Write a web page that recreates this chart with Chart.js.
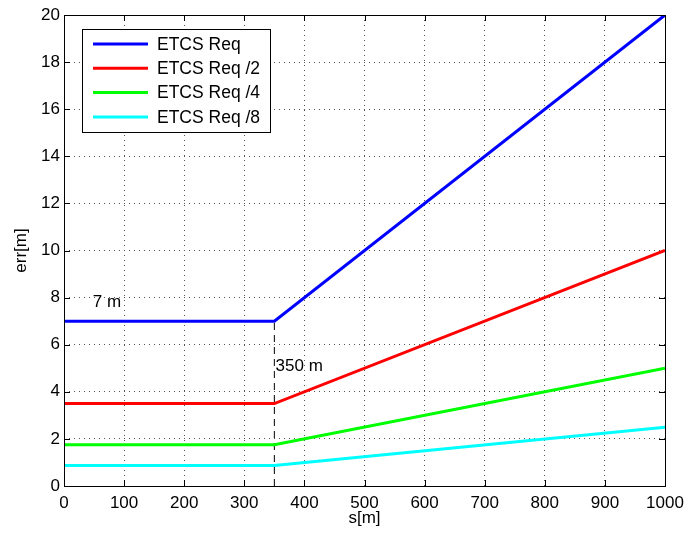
<!DOCTYPE html>
<html>
<head>
<meta charset="utf-8">
<script src="https://cdn.jsdelivr.net/npm/chart.js@4.4.0/dist/chart.umd.min.js"></script>
<style>
  body { margin: 0; background: #fff; }
  #wrap { width: 686px; height: 535px; }
</style>
</head>
<body>
<div id="wrap"><canvas id="errChart" width="686" height="535"></canvas></div>
<script>
// distance along track [m]
const sValues = [0, 350, 1000];
const reqValues = [7, 7, 20];
const halfValues = [3.5, 3.5, 10];
const quarterValues = [1.75, 1.75, 5];
const eighthValues = [0.875, 0.875, 2.5];
const seriesLabels = ["ETCS Req", "ETCS Req /2", "ETCS Req /4", "ETCS Req /8"];
const seriesColors = ["#0000ff", "#ff0000", "#00ff00", "#00ffff"];
const markerS = [350, 350];
const markerErr = [0, 7];
const notes = [
    { text: "7 m", x: 48, y: 7.8 },
    { text: "350 m", x: 352, y: 5.1 }
];

const FONT = "'Liberation Sans', Arial, sans-serif";

function toPoints(xs, ys) {
    return xs.map((x, i) => ({ x: x, y: ys[i] }));
}

const allSeries = [reqValues, halfValues, quarterValues, eighthValues];
const datasets = allSeries.map((vals, i) => ({
    label: seriesLabels[i],
    data: toPoints(sValues, vals),
    borderColor: seriesColors[i],
    borderWidth: 3,
    pointRadius: 0,
    fill: false
}));
datasets.push({
    label: "marker",
    data: toPoints(markerS, markerErr),
    borderColor: "#000",
    borderWidth: 1,
    borderDash: [7, 5],
    pointRadius: 0,
    fill: false
});

// box, inward ticks, notes and legend in the matlab way
const matlabLook = {
    id: "matlabLook",
    beforeDatasetsDraw(chart) {
        const { ctx, chartArea: a, scales } = chart;
        ctx.save();
        ctx.strokeStyle = "#000";
        ctx.lineWidth = 1;
        ctx.beginPath();
        scales.x.ticks.forEach(t => {
            const px = Math.round(scales.x.getPixelForValue(t.value)) + 0.5;
            ctx.moveTo(px, a.bottom); ctx.lineTo(px, a.bottom - 6);
            ctx.moveTo(px, a.top); ctx.lineTo(px, a.top + 6);
        });
        scales.y.ticks.forEach(t => {
            const py = Math.round(scales.y.getPixelForValue(t.value)) + 0.5;
            ctx.moveTo(a.left, py); ctx.lineTo(a.left + 6, py);
            ctx.moveTo(a.right, py); ctx.lineTo(a.right - 6, py);
        });
        ctx.stroke();
        ctx.restore();
    },
    afterDatasetsDraw(chart) {
        const { ctx, chartArea: a, scales } = chart;
        ctx.save();
        ctx.strokeStyle = "#000";
        ctx.lineWidth = 1;
        ctx.strokeRect(Math.round(a.left) + 0.5, Math.round(a.top) + 0.5,
            Math.round(a.right - a.left), Math.round(a.bottom - a.top));

        ctx.fillStyle = "#000";
        ctx.font = "17px " + FONT;
        ctx.textBaseline = "middle";
        notes.forEach(n => {
            ctx.fillText(n.text, scales.x.getPixelForValue(n.x), scales.y.getPixelForValue(n.y));
        });

        // legend box
        const lx = 82, ly = 29, lw = 188, lh = 103;
        ctx.fillStyle = "#fff";
        ctx.fillRect(lx, ly, lw, lh);
        ctx.strokeRect(lx + 0.5, ly + 0.5, lw, lh);
        ctx.font = "17.5px " + FONT;
        chart.data.datasets.slice(0, 4).forEach((ds, i) => {
            const yy = 44 + i * 24.3;
            ctx.strokeStyle = ds.borderColor;
            ctx.lineWidth = 3;
            ctx.beginPath();
            ctx.moveTo(93, yy); ctx.lineTo(148, yy);
            ctx.stroke();
            ctx.fillStyle = "#000";
            ctx.fillText(ds.label, 157, yy + 1);
        });
        ctx.restore();
    }
};

const errChart = new Chart("errChart", {
    type: "line",
    data: { datasets: datasets },
    options: {
        responsive: false,
        animation: false,
        layout: { padding: { left: 0, right: 21, top: 15, bottom: 0 } },
        plugins: {
            legend: { display: false },
            tooltip: { enabled: false }
        },
        scales: {
            x: {
                type: "linear",
                min: 0,
                max: 1000,
                ticks: { stepSize: 100, color: "#000", font: { family: FONT, size: 17 }, padding: 7, maxRotation: 0,
                    callback: v => String(v) },
                grid: { color: "#555", lineWidth: 1, drawTicks: false },
                border: { display: false, dash: [1, 4] },
                title: { display: true, text: "s[m]", color: "#000", font: { family: FONT, size: 17 }, padding: { top: 0, bottom: 6 } },
                afterFit(scale) {
                    scale.height = 49;
                    scale.paddingLeft = 0;
                    scale.paddingRight = 0;
                }
            },
            y: {
                min: 0,
                max: 20,
                ticks: { stepSize: 2, color: "#000", font: { family: FONT, size: 17 }, padding: 4 },
                grid: { color: "#555", lineWidth: 1, drawTicks: false },
                border: { display: false, dash: [1, 4] },
                title: { display: true, text: "err[m]", color: "#000", font: { family: FONT, size: 17 }, padding: { top: 11, bottom: 0 } },
                afterFit(scale) {
                    scale.width = 64;
                    scale.paddingTop = 0;
                    scale.paddingBottom = 0;
                }
            }
        }
    },
    plugins: [matlabLook]
});
</script>
</body>
</html>
